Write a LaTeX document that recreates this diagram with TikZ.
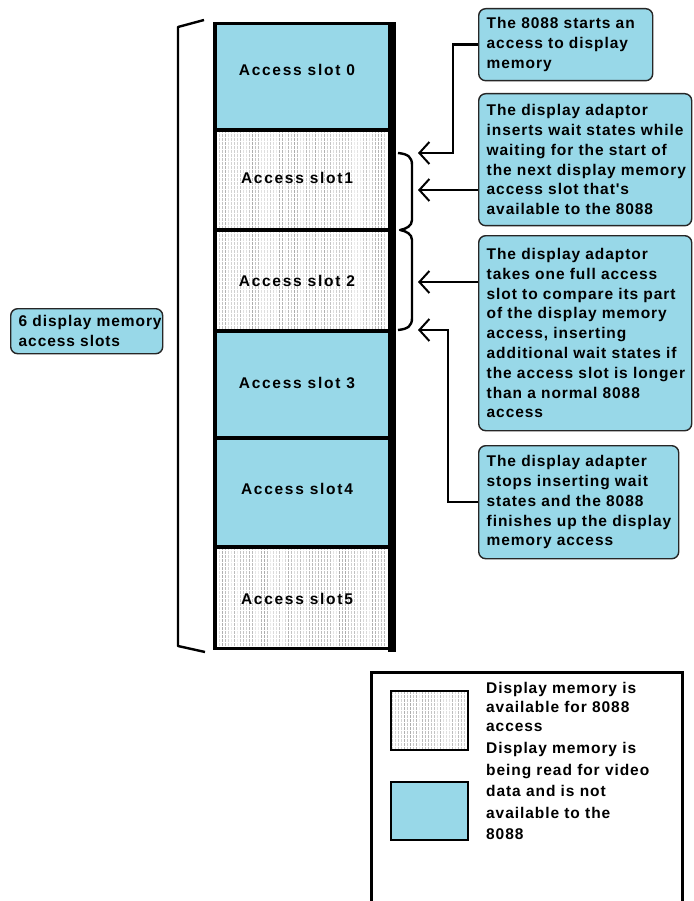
\documentclass[tikz,border=0pt]{standalone}
\usepackage{fontspec}
\setmainfont{Liberation Sans}
\newfontfamily\lblfont[LetterSpace=6]{Liberation Sans}
\newfontfamily\slotfont[LetterSpace=11]{Liberation Sans}
\usetikzlibrary{arrows.meta}
\definecolor{slotblue}{RGB}{152,216,232}
\newcommand\tl[1]{\mbox{#1}}
\tikzset{
  callout/.style={draw=black!85, line width=1.4pt, fill=slotblue, rounded corners=7pt,
    inner xsep=8pt, inner ysep=4pt, align=left, font=\lblfont\bfseries\fontsize{15.5}{19.8}\selectfont},
  slotlbl/.style={font=\slotfont\bfseries\fontsize{15.5}{19}\selectfont, inner sep=0pt},
  legtxt/.style={font=\lblfont\bfseries\fontsize{15.5}{19}\selectfont, inner sep=0pt, align=left, anchor=north west},
  arr/.style={line width=2.4pt, -{Straight Barb[length=10pt,width=22pt,line width=2pt]}},
  brace/.style={line width=2.4pt, line join=round}
}
\newcommand\mystripes[4]{%
  \pgfmathsetseed{#2}
  \foreach \i in {0,...,56}{
    \pgfmathsetmacro\xx{#1+1.5+3*\i}
    \pgfmathrandominteger{\gg}{8}{32}
    \draw[black!\gg, line width=0.7pt, dash pattern=on 3pt off 1pt] (\xx,#2) -- (\xx,#4);
  }}
\begin{document}
\begin{tikzpicture}[x=1pt,y=-1pt]
\useasboundingbox (0,0) rectangle (693,901);
\fill[white] (0,0) rectangle (693,901);
% slots
\fill[slotblue] (215,23) rectangle (388,130);
\fill[white] (215,130) rectangle (388,331);
\begin{scope}
\clip (215,130) rectangle (388,331);
\mystripes{215}{130}{388}{331}
\end{scope}
\fill[slotblue] (215,331) rectangle (388,547);
\fill[white] (215,547) rectangle (388,649);
\begin{scope}
\clip (215,547) rectangle (388,649);
\mystripes{215}{547}{388}{649}
\end{scope}
\draw[line width=4pt] (215,130) -- (388,130) (215,230) -- (388,230) (215,331) -- (388,331) (215,438) -- (388,438) (215,547) -- (388,547);
\draw[line width=3.5pt] (388,23.5) -- (215,23.5) -- (215,648.5) -- (388,648.5);
\fill[black] (388,21.7) rectangle (396,652);
\node[slotlbl] (s0) at (297,70) {Access slot 0};
\node[slotlbl] (s1) at (297,178) {Access slot1};
\node[slotlbl] (s2) at (297,281) {Access slot 2};
\node[slotlbl] (s3) at (297,383) {Access slot 3};
\node[slotlbl] (s4) at (297,489) {Access slot4};
\node[slotlbl] (s5) at (297,599) {Access slot5};
% left brace
\draw[brace] (204,20) -- (178,27) -- (178,646) -- (205,652);
% right brace
\draw[brace] (398,153) .. controls (408,154) and (412,157) .. (412,165) -- (412,220)
  .. controls (412,226) and (406,229) .. (400,230) .. controls (406,231) and (412,234) .. (412,240)
  -- (412,318) .. controls (412,326) and (408,329) .. (398,330);
% callouts
\node[callout, minimum width=174pt, minimum height=72pt, text width=158pt, anchor=north west] (b1) at (478,8)
  {\tl{The 8088 starts an}\\\tl{access to display}\\\tl{memory}};
\node[callout, minimum width=213pt, minimum height=132pt, text width=197pt, anchor=north west] (b2) at (478,93)
  {\tl{The display adaptor}\\\tl{inserts wait states while}\\\tl{waiting for the start of}\\\tl{the next display memory}\\\tl{access slot that's}\\\tl{available to the 8088}};
\node[callout, minimum width=213pt, minimum height=195pt, text width=197pt, anchor=north west] (b3) at (478,235)
  {\tl{The display adaptor}\\\tl{takes one full access}\\\tl{slot to compare its part}\\\tl{of the display memory}\\\tl{access, inserting}\\\tl{additional wait states if}\\\tl{the access slot is longer}\\\tl{than a normal 8088}\\\tl{access}};
\node[callout, minimum width=200pt, minimum height=113pt, text width=184pt, anchor=north west] (b4) at (478,445)
  {\tl{The display adapter}\\\tl{stops inserting wait}\\\tl{states and the 8088}\\\tl{finishes up the display}\\\tl{memory access}};
\node[callout, minimum width=152pt, minimum height=45pt, text width=136pt, anchor=north west] (lb) at (10,308)
  {\tl{6 display memory}\\\tl{access slots}};
% arrows
\coordinate (t1) at (418,153);
\coordinate (t2) at (418,190);
\coordinate (t3) at (418,282);
\coordinate (t4) at (418,330);
\draw[arr] (b1.west) -- ++(-25,0) |- (t1);
\draw[arr] (t2 -| b2.west) -- (t2);
\draw[arr] (t3 -| b3.west) -- (t3);
\draw[arr] (b4.west) -- ++(-30,0) |- (t4);
% legend
\draw[line width=3pt] (371,905) -- (371,672) -- (682,672) -- (682,905);
\fill[white] (391,691) rectangle (468,750);
\begin{scope}
\clip (391,691) rectangle (468,750);
\mystripes{391}{691}{468}{750}
\end{scope}
\draw[line width=2.5pt] (391,691) rectangle (468,750);
\draw[line width=2.5pt, fill=slotblue] (391,782) rectangle (468,840);
\node[legtxt] (l1) at (486,682) {Display memory is\\available for 8088\\access};
\node[legtxt, font=\lblfont\bfseries\fontsize{15.5}{21.6}\selectfont] (l2) at (486,742) {Display memory is\\being read for video\\data and is not\\available to the\\8088};
\end{tikzpicture}
\end{document}
